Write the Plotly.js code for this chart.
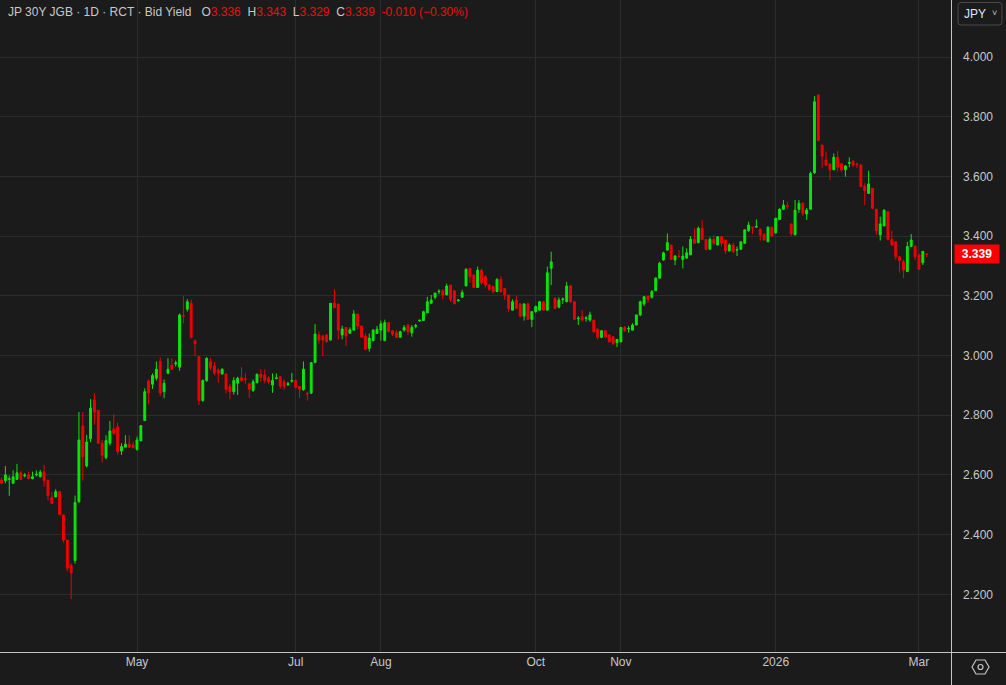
<!DOCTYPE html>
<html><head><meta charset="utf-8">
<script src="https://cdn.plot.ly/plotly-3.0.1.min.js"></script>
<style>html,body{margin:0;padding:0;background:#1b1b1b;}#chart{width:1006px;height:685px;}</style>
</head><body><div id="chart"></div>
<script>
// ---- calendar (Japanese trading days) ----
const firstDay = '2025-03-11';
const lastDay = '2026-03-04';
const holidays = ['2025-03-20','2025-04-29','2025-05-05','2025-05-06','2025-07-21','2025-08-11','2025-09-15','2025-09-23','2025-10-13','2025-11-03','2025-11-24','2025-12-31','2026-01-01','2026-01-02','2026-01-12','2026-02-11','2026-02-23'];
function tradingDays(start, end, hol) {
  const out = []; let d = new Date(start + 'T00:00:00Z'); const e = new Date(end + 'T00:00:00Z');
  while (d <= e) { const wd = d.getUTCDay(); const s = d.toISOString().slice(0, 10);
    if (wd !== 0 && wd !== 6 && !hol.includes(s)) out.push(s);
    d = new Date(d.getTime() + 86400000); }
  return out;
}
const dates = tradingDays(firstDay, lastDay, holidays);

// ---- OHLC (yield, %) ----
const open = [2.583,2.581,2.585,2.572,2.585,2.607,2.597,2.600,2.588,2.600,
2.594,2.610,2.581,2.524,2.526,2.544,2.466,2.382,2.296,2.313,
2.510,2.764,2.630,2.721,2.851,2.817,2.706,2.658,2.706,2.754,
2.761,2.680,2.693,2.703,2.700,2.686,2.714,2.782,2.915,2.904,
2.924,2.981,2.879,2.941,2.968,2.972,2.961,3.134,3.155,3.175,
3.049,2.996,2.849,2.916,2.979,2.965,2.951,2.938,2.938,2.896,
2.879,2.907,2.926,2.922,2.905,2.883,2.909,2.937,2.935,2.924,
2.901,2.923,2.929,2.912,2.903,2.914,2.916,2.896,2.885,2.872,
2.874,2.976,3.069,3.065,3.069,3.052,3.175,3.172,3.069,3.094,
3.075,3.085,3.139,3.099,3.065,3.024,3.050,3.074,3.085,3.050,
3.110,3.083,3.076,3.061,3.085,3.102,3.076,3.098,3.116,3.117,
3.143,3.175,3.195,3.213,3.217,3.203,3.236,3.217,3.184,3.195,
3.233,3.292,3.270,3.228,3.285,3.264,3.236,3.231,3.214,3.255,
3.225,3.203,3.152,3.186,3.173,3.132,3.173,3.121,3.147,3.152,
3.180,3.152,3.292,3.192,3.162,3.187,3.180,3.233,3.180,3.123,
3.130,3.124,3.119,3.119,3.088,3.061,3.083,3.069,3.063,3.043,
3.046,3.094,3.089,3.085,3.102,3.136,3.173,3.199,3.195,3.217,
3.259,3.320,3.353,3.370,3.320,3.333,3.322,3.326,3.337,3.389,
3.378,3.426,3.389,3.356,3.389,3.370,3.398,3.387,3.351,3.370,
3.353,3.356,3.376,3.418,3.430,3.430,3.423,3.406,3.381,3.430,
3.411,3.456,3.490,3.502,3.441,3.404,3.490,3.510,3.474,3.490,
3.612,3.873,3.705,3.655,3.642,3.622,3.664,3.642,3.622,3.644,
3.650,3.642,3.638,3.568,3.543,3.560,3.490,3.404,3.434,3.482,
3.389,3.381,3.331,3.314,3.281,3.365,3.365,3.337,3.311,3.340];
const high = [2.592,2.630,2.598,2.615,2.637,2.613,2.606,2.611,2.611,2.615,
2.617,2.633,2.585,2.543,2.552,2.546,2.466,2.382,2.304,2.531,
2.811,2.811,2.734,2.854,2.873,2.817,2.717,2.733,2.781,2.804,
2.775,2.706,2.733,2.733,2.711,2.728,2.767,2.890,2.920,2.940,
2.980,2.994,2.920,2.991,2.991,2.983,3.141,3.199,3.189,3.188,
3.054,2.998,2.920,2.994,2.991,2.979,2.957,2.957,2.940,2.905,
2.927,2.929,2.961,2.940,2.907,2.920,2.940,2.954,2.954,2.931,
2.940,2.940,2.931,2.920,2.912,2.942,2.920,2.898,2.980,2.879,
2.978,3.105,3.080,3.069,3.071,3.175,3.222,3.175,3.100,3.094,
3.094,3.152,3.139,3.099,3.074,3.074,3.088,3.099,3.117,3.120,
3.110,3.083,3.085,3.083,3.102,3.106,3.102,3.106,3.120,3.150,
3.197,3.203,3.211,3.222,3.222,3.241,3.236,3.217,3.188,3.220,
3.292,3.292,3.270,3.298,3.290,3.270,3.240,3.231,3.259,3.266,
3.225,3.203,3.188,3.199,3.173,3.173,3.177,3.147,3.167,3.183,
3.180,3.298,3.348,3.195,3.195,3.195,3.247,3.236,3.180,3.132,
3.152,3.132,3.147,3.119,3.091,3.085,3.085,3.072,3.063,3.054,
3.094,3.099,3.099,3.108,3.136,3.184,3.199,3.199,3.219,3.262,
3.314,3.348,3.409,3.370,3.337,3.353,3.365,3.359,3.400,3.426,
3.432,3.454,3.389,3.396,3.404,3.398,3.400,3.387,3.376,3.378,
3.365,3.381,3.421,3.448,3.432,3.456,3.426,3.409,3.432,3.432,
3.460,3.493,3.521,3.515,3.441,3.521,3.521,3.514,3.494,3.616,
3.869,3.873,3.705,3.683,3.642,3.677,3.686,3.644,3.638,3.664,
3.655,3.646,3.642,3.577,3.619,3.560,3.490,3.465,3.490,3.482,
3.418,3.381,3.331,3.321,3.381,3.407,3.370,3.342,3.349,3.343];
const low = [2.570,2.572,2.530,2.570,2.583,2.583,2.592,2.585,2.585,2.595,
2.591,2.561,2.515,2.502,2.526,2.467,2.373,2.277,2.184,2.303,
2.507,2.581,2.625,2.710,2.768,2.706,2.641,2.652,2.698,2.734,
2.668,2.667,2.692,2.692,2.690,2.681,2.714,2.782,2.837,2.888,
2.916,2.864,2.857,2.937,2.952,2.963,2.949,3.108,3.147,3.057,
2.998,2.834,2.845,2.912,2.951,2.935,2.909,2.936,2.873,2.853,
2.869,2.868,2.913,2.905,2.857,2.878,2.907,2.912,2.907,2.905,
2.875,2.920,2.889,2.885,2.898,2.909,2.889,2.857,2.882,2.849,
2.871,2.976,3.040,2.998,3.044,3.050,3.158,3.054,3.054,3.032,
3.072,3.085,3.088,3.061,3.018,3.013,3.047,3.072,3.050,3.048,
3.080,3.065,3.058,3.061,3.080,3.069,3.063,3.091,3.113,3.117,
3.143,3.173,3.188,3.206,3.188,3.203,3.180,3.173,3.180,3.195,
3.233,3.244,3.228,3.228,3.238,3.228,3.216,3.208,3.214,3.210,
3.186,3.147,3.152,3.158,3.128,3.117,3.121,3.095,3.143,3.150,
3.150,3.152,3.236,3.155,3.158,3.173,3.180,3.177,3.121,3.102,
3.113,3.113,3.113,3.076,3.054,3.058,3.058,3.043,3.035,3.028,
3.043,3.080,3.076,3.085,3.102,3.132,3.166,3.177,3.191,3.217,
3.259,3.318,3.353,3.320,3.303,3.329,3.292,3.326,3.337,3.374,
3.376,3.389,3.351,3.356,3.370,3.370,3.365,3.340,3.348,3.344,
3.333,3.353,3.374,3.415,3.407,3.430,3.385,3.385,3.381,3.398,
3.408,3.454,3.487,3.490,3.400,3.404,3.478,3.467,3.454,3.490,
3.608,3.720,3.627,3.635,3.588,3.622,3.616,3.616,3.599,3.631,
3.631,3.628,3.566,3.504,3.543,3.493,3.404,3.385,3.434,3.385,
3.367,3.321,3.278,3.259,3.281,3.363,3.319,3.287,3.303,3.329];
const close = [2.572,2.600,2.587,2.594,2.607,2.585,2.599,2.588,2.594,2.602,
2.609,2.581,2.531,2.505,2.544,2.467,2.382,2.287,2.272,2.508,
2.717,2.661,2.710,2.824,2.811,2.706,2.666,2.715,2.747,2.739,
2.678,2.695,2.703,2.693,2.691,2.717,2.765,2.879,2.875,2.933,
2.954,2.875,2.907,2.954,2.954,2.975,3.136,3.132,3.180,3.061,
3.039,2.849,2.916,2.991,2.960,2.942,2.942,2.954,2.887,2.879,
2.916,2.924,2.916,2.920,2.887,2.912,2.937,2.927,2.916,2.912,
2.916,2.925,2.898,2.896,2.905,2.916,2.894,2.887,2.954,2.871,
2.976,3.072,3.051,3.052,3.046,3.175,3.161,3.085,3.089,3.065,
3.086,3.139,3.099,3.061,3.021,3.058,3.085,3.088,3.106,3.110,
3.080,3.072,3.061,3.080,3.094,3.080,3.094,3.100,3.118,3.147,
3.180,3.186,3.209,3.215,3.203,3.233,3.188,3.173,3.186,3.211,
3.289,3.264,3.228,3.286,3.243,3.236,3.222,3.214,3.255,3.214,
3.203,3.158,3.180,3.158,3.132,3.173,3.121,3.147,3.164,3.180,
3.152,3.277,3.314,3.158,3.186,3.189,3.233,3.180,3.121,3.125,
3.119,3.126,3.136,3.080,3.061,3.083,3.063,3.046,3.039,3.054,
3.094,3.083,3.091,3.102,3.136,3.180,3.197,3.188,3.214,3.259,
3.309,3.344,3.378,3.322,3.333,3.331,3.333,3.344,3.389,3.376,
3.426,3.389,3.356,3.389,3.376,3.398,3.376,3.351,3.370,3.348,
3.355,3.381,3.421,3.437,3.428,3.432,3.404,3.387,3.430,3.400,
3.460,3.490,3.504,3.500,3.407,3.487,3.510,3.476,3.487,3.610,
3.850,3.720,3.668,3.638,3.622,3.664,3.631,3.622,3.635,3.646,
3.638,3.640,3.566,3.552,3.575,3.493,3.418,3.441,3.487,3.389,
3.370,3.331,3.318,3.286,3.365,3.387,3.331,3.289,3.349,3.339];

// ---- axis labels / header ----
const tickDates = ['2025-05-01','2025-07-01','2025-08-01','2025-10-01','2025-11-04','2026-01-05','2026-03-02'];
const tickLabels = ['May','Jul','Aug','Oct','Nov','2026','Mar'];
const yTicks = [2.2,2.4,2.6,2.8,3.0,3.2,3.4,3.6,3.8,4.0];
const seriesName = 'JP 30Y JGB · 1D · RCT · Bid Yield';
const lastOHLC = [3.336, 3.343, 3.329, 3.339];
const lastChange = -0.010;
const lastChangePct = -0.30;
const currency = 'JPY';

const G = '#0ae60a', R = '#f00000';
const GRID = '#2c2c2c', TXT = '#c8c8c8', AXL = '#c4c4c4';
const W = 951, H = 653; // plot area in px
const px = v => v / W, py = v => 1 - v / H;

const trace = {
  type: 'candlestick', x: dates, open: open, high: high, low: low, close: close,
  increasing: {line: {color: G, width: 1}, fillcolor: G},
  decreasing: {line: {color: R, width: 1}, fillcolor: R},
  whiskerwidth: 0, hoverinfo: 'none'
};

const redTxt = s => '<span style="color:#e81010">' + s + '</span>';
const headerText = seriesName + '   O' + redTxt(lastOHLC[0].toFixed(3)) + '  H' + redTxt(lastOHLC[1].toFixed(3)) +
  '  L' + redTxt(lastOHLC[2].toFixed(3)) + '  C' + redTxt(lastOHLC[3].toFixed(3)) + '  ' +
  redTxt(lastChange.toFixed(3) + ' (' + '\u2212' + Math.abs(lastChangePct).toFixed(2) + '%)');

const FONT = 'Liberation Sans, Arial, sans-serif';
const layout = {
  width: 1006, height: 685,
  margin: {l: 0, r: 55, t: 0, b: 32, pad: 0},
  paper_bgcolor: '#1b1b1b', plot_bgcolor: '#1b1b1b',
  showlegend: false, dragmode: false,
  font: {family: FONT, color: TXT, size: 12},
  xaxis: {
    type: 'category', range: [-0.39, 245.28], tickmode: 'array', tickvals: tickDates, ticktext: tickLabels,
    showgrid: true, gridcolor: GRID, gridwidth: 1, zeroline: false, showline: false, ticks: '',
    tickfont: {family: 'Liberation Sans Narrow, Liberation Sans, Arial, sans-serif', color: TXT, size: 12},
    rangeslider: {visible: false}, fixedrange: true
  },
  yaxis: {
    side: 'right', range: [2.0034, 4.191], tickmode: 'array', tickvals: yTicks, tickformat: '.3f',
    showgrid: true, gridcolor: GRID, gridwidth: 1, zeroline: false, showline: false, ticks: '',
    ticklabelstandoff: 11, tickfont: {family: FONT, color: TXT, size: 12}, fixedrange: true
  },
  shapes: [
    {type: 'line', xref: 'paper', yref: 'paper', x0: 0, x1: 1006 / W, y0: py(652.5), y1: py(652.5), line: {color: AXL, width: 1}},
    {type: 'line', xref: 'paper', yref: 'paper', x0: px(951.5), x1: px(951.5), y0: py(685), y1: 1, line: {color: AXL, width: 1}},
    {type: 'path', xref: 'paper', yref: 'paper',
     path: 'M' + px(972) + ',' + py(667) + ' L' + px(976) + ',' + py(660) + ' L' + px(985) + ',' + py(660) + ' L' + px(989) + ',' + py(667) +
           ' L' + px(985) + ',' + py(674) + ' L' + px(976) + ',' + py(674) + ' Z', line: {color: AXL, width: 1.2}},
    {type: 'circle', xref: 'paper', yref: 'paper', x0: px(978), x1: px(983), y0: py(669.5), y1: py(664.5), line: {color: AXL, width: 1.2}},
    {type: 'path', xref: 'paper', yref: 'paper',
     path: 'M' + px(961) + ',' + py(2.5) + ' L' + px(999) + ',' + py(2.5) + ' Q' + px(1002) + ',' + py(2.5) + ' ' + px(1002) + ',' + py(5.5) +
           ' L' + px(1002) + ',' + py(22) + ' Q' + px(1002) + ',' + py(25) + ' ' + px(999) + ',' + py(25) +
           ' L' + px(961) + ',' + py(25) + ' Q' + px(958) + ',' + py(25) + ' ' + px(958) + ',' + py(22) +
           ' L' + px(958) + ',' + py(5.5) + ' Q' + px(958) + ',' + py(2.5) + ' ' + px(961) + ',' + py(2.5) + ' Z',
     line: {color: '#4a4a4a', width: 1}}
  ],
  annotations: [
    {xref: 'paper', yref: 'paper', x: px(6), y: py(12), xanchor: 'left', yanchor: 'middle', showarrow: false,
     text: headerText, font: {family: FONT, size: 12, color: TXT}},
    {xref: 'paper', yref: 'y', x: px(954), y: close[close.length - 1], xanchor: 'left', yanchor: 'middle', showarrow: false,
     text: '<b>' + close[close.length - 1].toFixed(3) + '</b>', bgcolor: '#ff0000', borderpad: 2,
     font: {family: FONT, size: 12, color: '#ffffff'}, width: 40},
    {xref: 'paper', yref: 'paper', x: px(975), y: py(13.5), xanchor: 'center', yanchor: 'middle', showarrow: false,
     text: currency, font: {family: FONT, size: 12, color: '#d8e6ff'}},
    {xref: 'paper', yref: 'paper', x: px(994), y: py(13), xanchor: 'center', yanchor: 'middle', showarrow: false,
     text: '\u02C5', font: {family: FONT, size: 9, color: '#c8c8c8'}}
  ]
};

Plotly.newPlot('chart', [trace], layout, {staticPlot: true, displayModeBar: false});
</script></body></html>
